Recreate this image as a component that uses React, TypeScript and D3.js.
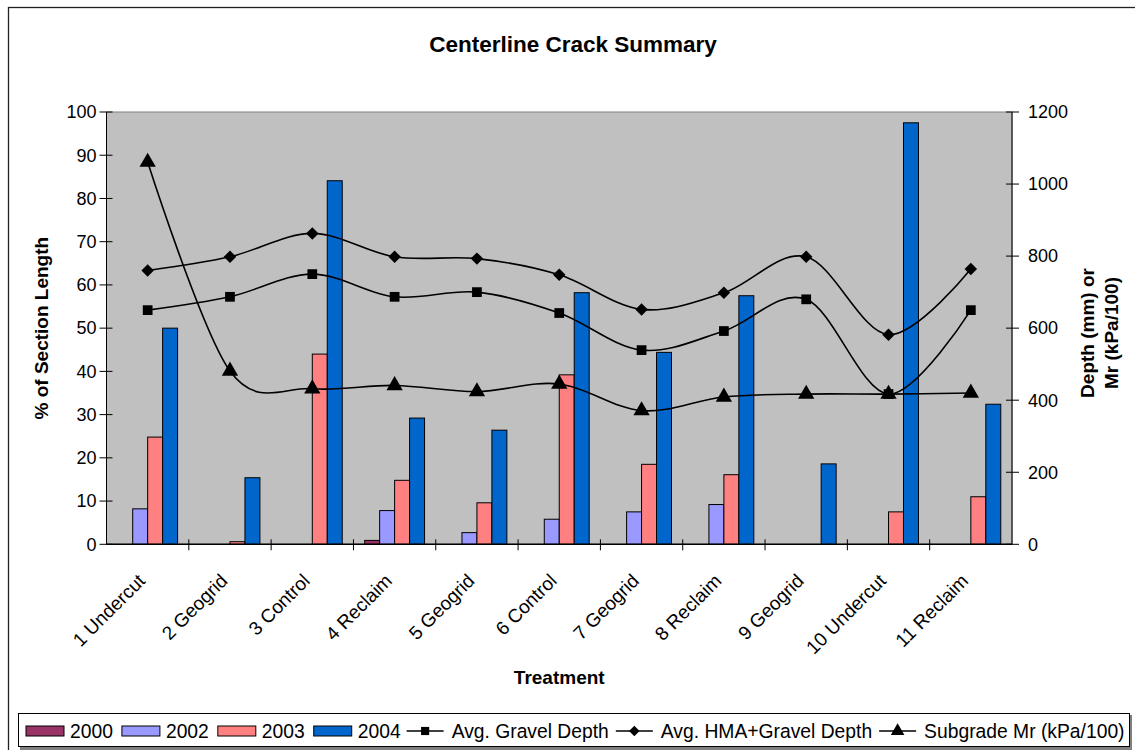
import React, { useEffect, useRef } from "react";
import * as d3 from "d3";

const categories = [
  "1 Undercut",
  "2 Geogrid",
  "3 Control",
  "4 Reclaim",
  "5 Geogrid",
  "6 Control",
  "7 Geogrid",
  "8 Reclaim",
  "9 Geogrid",
  "10 Undercut",
  "11 Reclaim",
];

const barSeries = ["2000", "2002", "2003", "2004"];
const y2000 = [0, 0, 0, 0.9, 0, 0, 0, 0, 0, 0, 0];
const y2002 = [8.2, 0, 0, 7.8, 2.7, 5.8, 7.5, 9.2, 0, 0, 0];
const y2003 = [24.8, 0.6, 44.0, 14.8, 9.6, 39.2, 18.5, 16.1, 0, 7.5, 11.0];
const y2004 = [50, 15.4, 84.1, 29.2, 26.4, 58.2, 44.4, 57.5, 18.6, 97.5, 32.4];
const barColors = ["#993366", "#9999FF", "#FF8080", "#0066CC"];

const lineSeries = ["Avg. Gravel Depth", "Avg. HMA+Gravel Depth", "Subgrade Mr (kPa/100)"];
const gravelDepth = [650, 687, 750, 687, 700, 642, 539, 592, 680, 417, 650];
const hmaGravelDepth = [760, 798, 863, 798, 793, 748, 652, 698, 798, 582, 764];
const subgradeMr = [1061, 481, 432, 441, 424, 445, 371, 409, 417, 417, 420];

const leftTicks = [0, 10, 20, 30, 40, 50, 60, 70, 80, 90, 100];
const rightTicks = [0, 200, 400, 600, 800, 1000, 1200];

const FONT = "Arial, 'Liberation Sans', sans-serif";

const App: React.FC = () => {
  const ref = useRef<SVGSVGElement>(null);

  useEffect(() => {
    if (!ref.current) return;
    const svg = d3.select(ref.current);
    svg.selectAll("*").remove();

    const W = 1135;
    const H = 750;
    const plot = { left: 106.5, right: 1012, top: 112, bottom: 544.3 };

    // outer chart border
    svg
      .append("rect")
      .attr("x", 8.5)
      .attr("y", 7.5)
      .attr("width", W + 20)
      .attr("height", H + 20)
      .attr("fill", "#fff")
      .attr("stroke", "#222")
      .attr("stroke-width", 1.3);

    svg
      .append("text")
      .attr("x", 573)
      .attr("y", 52)
      .attr("text-anchor", "middle")
      .attr("font-family", FONT)
      .attr("font-weight", "bold")
      .attr("font-size", 22.5)
      .text("Centerline Crack Summary");

    const x0 = d3
      .scaleBand<string>()
      .domain(categories)
      .range([plot.left, plot.right])
      .paddingInner(0)
      .paddingOuter(0);
    const x1 = d3
      .scaleBand<string>()
      .domain(barSeries)
      .range([0, x0.bandwidth()])
      .paddingInner(0)
      .paddingOuter(0.75);
    const yLeft = d3.scaleLinear().domain([0, 100]).range([plot.bottom, plot.top]);
    const yRight = d3.scaleLinear().domain([0, 1200]).range([plot.bottom, plot.top]);

    // plot area
    svg
      .append("rect")
      .attr("x", plot.left)
      .attr("y", plot.top)
      .attr("width", plot.right - plot.left)
      .attr("height", plot.bottom - plot.top)
      .attr("fill", "#C0C0C0")
      .attr("stroke", "#808080")
      .attr("stroke-width", 1);

    // bars
    const barData = [y2000, y2002, y2003, y2004];
    barSeries.forEach((s, si) => {
      const g = svg.append("g");
      categories.forEach((c, ci) => {
        const v = barData[si][ci];
        if (!v) return;
        g.append("rect")
          .attr("x", (x0(c) as number) + (x1(s) as number))
          .attr("y", yLeft(v))
          .attr("width", x1.bandwidth())
          .attr("height", yLeft(0) - yLeft(v))
          .attr("fill", barColors[si])
          .attr("stroke", "#000")
          .attr("stroke-width", 1);
      });
    });

    // axes
    const axisG = svg.append("g").attr("font-family", FONT).attr("font-size", 18);
    axisG
      .append("line")
      .attr("x1", plot.left)
      .attr("x2", plot.left)
      .attr("y1", plot.top)
      .attr("y2", plot.bottom)
      .attr("stroke", "#000");
    axisG
      .append("line")
      .attr("x1", plot.right)
      .attr("x2", plot.right)
      .attr("y1", plot.top)
      .attr("y2", plot.bottom)
      .attr("stroke", "#000");
    axisG
      .append("line")
      .attr("x1", plot.left)
      .attr("x2", plot.right)
      .attr("y1", plot.bottom)
      .attr("y2", plot.bottom)
      .attr("stroke", "#000")
      .attr("stroke-width", 1.5);

    leftTicks.forEach((t) => {
      const y = yLeft(t);
      axisG
        .append("line")
        .attr("x1", plot.left - 7)
        .attr("x2", plot.left + 6)
        .attr("y1", y)
        .attr("y2", y)
        .attr("stroke", "#000");
      axisG
        .append("text")
        .attr("x", plot.left - 10)
        .attr("y", y)
        .attr("dy", "0.35em")
        .attr("text-anchor", "end")
        .text(String(t));
    });

    rightTicks.forEach((t) => {
      const y = yRight(t);
      axisG
        .append("line")
        .attr("x1", plot.right - 6)
        .attr("x2", plot.right + 7)
        .attr("y1", y)
        .attr("y2", y)
        .attr("stroke", "#000");
      axisG
        .append("text")
        .attr("x", plot.right + 16)
        .attr("y", y)
        .attr("dy", "0.35em")
        .attr("text-anchor", "start")
        .text(String(t));
    });

    // category ticks (between categories) and labels
    categories.forEach((c, i) => {
      const xs = x0(c) as number;
      if (i > 0) {
        axisG
          .append("line")
          .attr("x1", xs)
          .attr("x2", xs)
          .attr("y1", plot.bottom - 5)
          .attr("y2", plot.bottom + 6)
          .attr("stroke", "#000");
      }
      const cx = xs + x0.bandwidth() / 2;
      axisG
        .append("text")
        .attr("transform", `translate(${cx - 6},${plot.bottom + 33}) rotate(-45)`)
        .attr("text-anchor", "end")
        .attr("dy", "0.35em")
        .attr("font-size", 19)
        .text(c);
    });

    // axis titles
    svg
      .append("text")
      .attr("transform", `translate(48,${(plot.top + plot.bottom) / 2}) rotate(-90)`)
      .attr("text-anchor", "middle")
      .attr("font-family", FONT)
      .attr("font-weight", "bold")
      .attr("font-size", 19)
      .text("% of Section Length");

    const rightTitle: [string, number][] = [
      ["Depth (mm) or", 1094],
      ["Mr (kPa/100)", 1118],
    ];
    rightTitle.forEach(([label, bx]) => {
      svg
        .append("text")
        .attr("transform", `translate(${bx},333) rotate(-90)`)
        .attr("text-anchor", "middle")
        .attr("font-family", FONT)
        .attr("font-weight", "bold")
        .attr("font-size", 19)
        .text(label);
    });

    svg
      .append("text")
      .attr("x", (plot.left + plot.right) / 2)
      .attr("y", 684)
      .attr("text-anchor", "middle")
      .attr("font-family", FONT)
      .attr("font-weight", "bold")
      .attr("font-size", 19)
      .text("Treatment");

    // lines with markers
    const lineData = [gravelDepth, hmaGravelDepth, subgradeMr];
    const symbols = [d3.symbolSquare, d3.symbolSquare, d3.symbolTriangle];
    const symbolSizes = [95, 78, 115];
    const symbolRot = [0, 45, 0];
    const cxOf = (i: number) => (x0(categories[i]) as number) + x0.bandwidth() / 2;
    const line = d3
      .line<number>()
      .x((_, i) => cxOf(i))
      .y((d) => yRight(d))
      .curve(d3.curveCardinal.tension(0));

    lineData.forEach((vals, li) => {
      svg
        .append("path")
        .attr("d", line(vals) as string)
        .attr("fill", "none")
        .attr("stroke", "#000")
        .attr("stroke-width", 1.6);
      vals.forEach((v, i) => {
        svg
          .append("path")
          .attr("d", d3.symbol().type(symbols[li]).size(symbolSizes[li])() as string)
          .attr("transform", `translate(${cxOf(i)},${yRight(v)}) rotate(${symbolRot[li]})`)
          .attr("fill", "#000");
      });
    });

    // legend
    const lg = svg.append("g").attr("font-family", FONT).attr("font-size", 19.3);
    lg.append("rect")
      .attr("x", 20)
      .attr("y", 715)
      .attr("width", 1112)
      .attr("height", 35)
      .attr("fill", "#808080");
    lg.append("rect")
      .attr("x", 18.5)
      .attr("y", 713.5)
      .attr("width", 1111)
      .attr("height", 33)
      .attr("fill", "#fff")
      .attr("stroke", "#000")
      .attr("stroke-width", 1);

    const cy = 731;
    let lx = 26;
    const addText = (label: string) => {
      const t = lg
        .append("text")
        .attr("x", lx)
        .attr("y", cy)
        .attr("dy", "0.35em")
        .text(label);
      const w = (t.node() as SVGTextElement).getComputedTextLength();
      lx += w;
    };
    barSeries.forEach((s, si) => {
      lg.append("rect")
        .attr("x", lx)
        .attr("y", cy - 5)
        .attr("width", 38)
        .attr("height", 10)
        .attr("fill", barColors[si])
        .attr("stroke", "#000")
        .attr("stroke-width", 1);
      lx += 44;
      addText(s);
      lx += 9;
    });
    lx -= 3;
    lineSeries.forEach((s, li) => {
      lg.append("line")
        .attr("x1", lx)
        .attr("x2", lx + 37)
        .attr("y1", cy)
        .attr("y2", cy)
        .attr("stroke", "#000")
        .attr("stroke-width", 1.6);
      lg.append("path")
        .attr("d", d3.symbol().type(symbols[li]).size(symbolSizes[li] * 0.7)() as string)
        .attr("transform", `translate(${lx + 18.5},${cy}) rotate(${symbolRot[li]})`)
        .attr("fill", "#000");
      lx += 45;
      addText(s);
      lx += 7;
    });
  }, []);

  return (
    <svg
      ref={ref}
      width={1135}
      height={750}
      style={{ position: "absolute", left: 0, top: 0, background: "#fff" }}
    />
  );
};

export default App;
